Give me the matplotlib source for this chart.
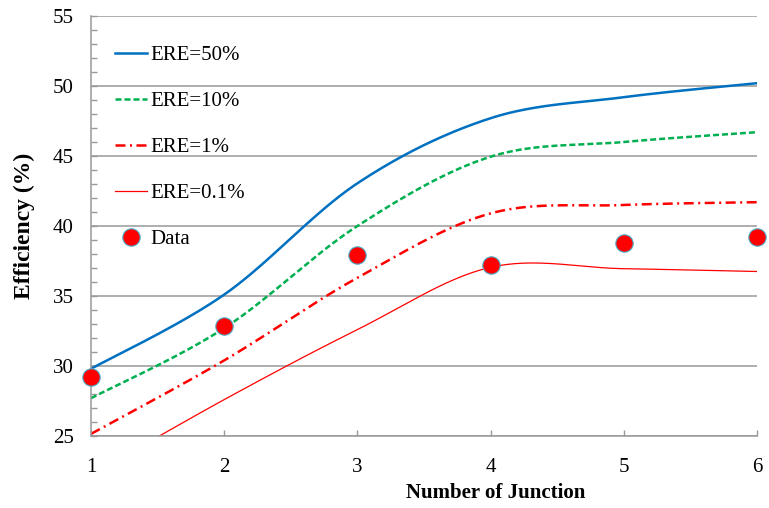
import numpy as np
import matplotlib.pyplot as plt

plt.rcParams['font.family'] = ['Liberation Serif', 'DejaVu Serif']

# --- Data ---
junctions = [1, 2, 3, 4, 5, 6]
ere_50 = [29.8, 35.1, 43.05, 47.7, 49.2, 50.2]
ere_10 = [27.7, 32.7, 40.0, 44.95, 46.0, 46.7]
ere_1 = [25.15, 30.4, 36.3, 40.9, 41.5, 41.7]
ere_01 = [22.2, 27.6, 32.6, 37.05, 36.95, 36.75]
data_eff = [29.2, 32.85, 37.95, 37.25, 38.8, 39.25]


def excel_smooth(x, y, n=40):
    # Excel-style smoothed line: cubic Bezier segments with Catmull-Rom control points
    p = np.column_stack([x, y]).astype(float)
    pad = np.vstack([p[0], p, p[-1]])
    out = []
    for i in range(len(p) - 1):
        p0, p1, p2, p3 = pad[i], pad[i + 1], pad[i + 2], pad[i + 3]
        c1 = p1 + (p2 - p0) / 6.0
        c2 = p2 - (p3 - p1) / 6.0
        t = np.linspace(0, 1, n)[:, None]
        seg = (1 - t) ** 3 * p1 + 3 * (1 - t) ** 2 * t * c1 + 3 * (1 - t) * t ** 2 * c2 + t ** 3 * p2
        out.append(seg if i == 0 else seg[1:])
    s = np.vstack(out)
    return s[:, 0], s[:, 1]


fig = plt.figure(figsize=(7.69, 5.08), dpi=100)
ax = fig.add_axes([91 / 769, 1 - 436 / 508, 666 / 769, 420 / 508])

sx, sy = excel_smooth(junctions, ere_50)
ax.plot(sx, sy, color='#0070C0', lw=1.8, label='ERE=50%')
sx, sy = excel_smooth(junctions, ere_10)
ax.plot(sx, sy, color='#00B050', lw=1.8, dashes=(2.4, 1.2), label='ERE=10%')
sx, sy = excel_smooth(junctions, ere_1)
ax.plot(sx, sy, color='#FF0000', lw=1.8, dashes=(4, 1.8, 0.8, 1.8), label='ERE=1%')
sx, sy = excel_smooth(junctions, ere_01)
ax.plot(sx, sy, color='#FF0000', lw=0.9, label='ERE=0.1%')
ax.plot(junctions, data_eff, 'o', color='#FF0000', ms=12.5, mec='#4BACC6', mew=0.8,
        label='Data', clip_on=False, zorder=5)

ax.set_xlim(1, 6)
ax.set_ylim(25, 55)
ax.set_yticks(np.arange(25, 56, 5))
ax.set_yticks(np.arange(25, 56, 1), minor=True)
ax.set_xticks(junctions)

ax.grid(axis='y', which='major', color='#999999', lw=1.1)
ax.set_axisbelow(True)
for side in ['top', 'right']:
    ax.spines[side].set_visible(False)
for side in ['left', 'bottom']:
    ax.spines[side].set_color('#999999')
    ax.spines[side].set_linewidth(1.1)

ax.tick_params(axis='y', which='both', direction='in', length=4.5, width=1, color='#999999',
               labelsize=15, pad=12.5)
ax.tick_params(axis='x', which='major', direction='in', length=4.5, width=1, color='#999999',
               labelsize=15, pad=15.5)

ax.set_ylabel('Efficiency (%)', fontsize=17, fontweight='bold')
ax.yaxis.set_label_coords(-0.084, 0.5)
ax.set_xlabel('Number of Junction', fontsize=15, fontweight='bold', va='center')
ax.xaxis.set_label_coords(0.607, -0.135)

ax.legend(loc='upper left', bbox_to_anchor=(0.036, 0.93), frameon=False, fontsize=15,
          handlelength=1.55, handletextpad=0.15, labelspacing=1.27, borderpad=0,
          borderaxespad=0)

fig.savefig('out.png', dpi=100)
